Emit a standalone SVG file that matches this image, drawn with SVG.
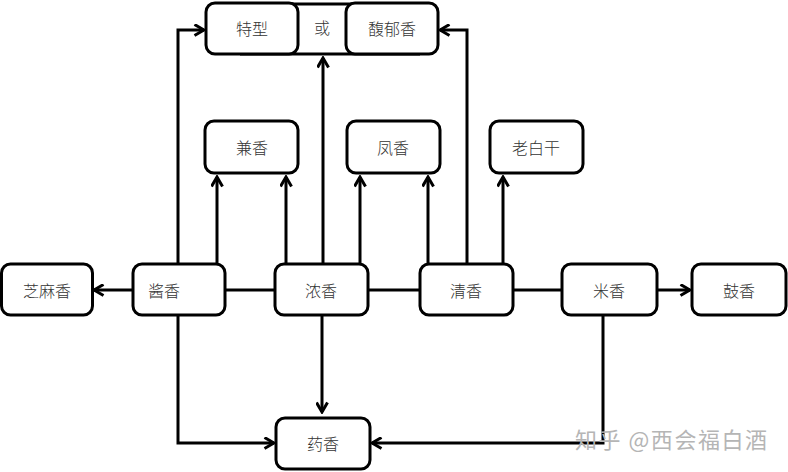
<svg xmlns="http://www.w3.org/2000/svg" width="788" height="472" viewBox="0 0 788 472">
<defs>
<marker id="arr" viewBox="0 0 13 13" refX="11" refY="6.5" markerWidth="13" markerHeight="13" markerUnits="userSpaceOnUse" orient="auto">
<path d="M1.5,1 L11,6.5 L1.5,12" fill="none" stroke="#000" stroke-width="3" stroke-linejoin="miter"/>
</marker>
<style>
.box{fill:#fff;stroke:#000;stroke-width:3}
.t{font-family:"Noto Sans CJK SC","Noto Sans",sans-serif;font-size:16px;font-weight:300;fill:#333;text-anchor:middle;dominant-baseline:central}
.c{fill:none;stroke:#000;stroke-width:3}
.a{fill:none;stroke:#000;stroke-width:3;marker-end:url(#arr)}
.wm{font-family:"Noto Sans CJK SC","Noto Sans",sans-serif;font-size:22px;fill:#b5b5b5}
</style>
</defs>
<rect width="788" height="472" fill="#fff"/>
<g id="connectors">
<path class="c" d="M225,290 H275 M368,290 H420 M513,290 H562"/>
<path class="a" d="M133,290 H94"/>
<path class="a" d="M657,290 H690"/>
<path class="a" d="M217,263 V177"/>
<path class="a" d="M286,263 V177"/>
<path class="a" d="M360,263 V177"/>
<path class="a" d="M428,263 V177"/>
<path class="a" d="M503,263 V177"/>
<path class="a" d="M323,263 V58"/>
<path class="a" d="M178,263 V30 H204"/>
<path class="a" d="M467,263 V30 H440"/>
<path class="a" d="M322,316 V412"/>
<path class="a" d="M178,316 V443 H274"/>
<path class="a" d="M603,316 V443 H372"/>
</g>
<g id="top-group">
<path class="c" d="M240,4 H420 M240,54 H420"/>
<text class="t" x="322" y="27">或</text>
</g>
<g id="n-texing"><rect class="box" x="206" y="3" width="92" height="51" rx="9"/><text class="t" x="252" y="28">特型</text></g>
<g id="n-fuyu"><rect class="box" x="346" y="3" width="92" height="51" rx="9"/><text class="t" x="392" y="28">馥郁香</text></g>
<g id="n-jian"><rect class="box" x="205" y="121" width="93" height="52" rx="9"/><text class="t" x="252" y="147">兼香</text></g>
<g id="n-feng"><rect class="box" x="347" y="121" width="93" height="52" rx="9"/><text class="t" x="393" y="147">凤香</text></g>
<g id="n-laobai"><rect class="box" x="490" y="121" width="93" height="52" rx="9"/><text class="t" x="536" y="147">老白干</text></g>
<g id="n-zhima"><rect class="box" x="1.5" y="264" width="91" height="51" rx="9"/><text class="t" x="47" y="290">芝麻香</text></g>
<g id="n-jiang"><rect class="box" x="133" y="264" width="92" height="51" rx="9"/><text class="t" x="164" y="290">酱香</text></g>
<g id="n-nong"><rect class="box" x="275" y="264" width="93" height="51" rx="9"/><text class="t" x="321" y="290">浓香</text></g>
<g id="n-qing"><rect class="box" x="420" y="264" width="93" height="51" rx="9"/><text class="t" x="466" y="290">清香</text></g>
<g id="n-mi"><rect class="box" x="562" y="264" width="95" height="51" rx="9"/><text class="t" x="609" y="290">米香</text></g>
<g id="n-gu"><rect class="box" x="692" y="264" width="94" height="51" rx="9"/><text class="t" x="739" y="290">鼓香</text></g>
<g id="n-yao"><rect class="box" x="276" y="418" width="94" height="51" rx="9"/><text class="t" x="323" y="443">药香</text></g>
<text class="wm" x="575" y="448" textLength="192" lengthAdjust="spacing">知乎 @西会福白酒</text>
</svg>
